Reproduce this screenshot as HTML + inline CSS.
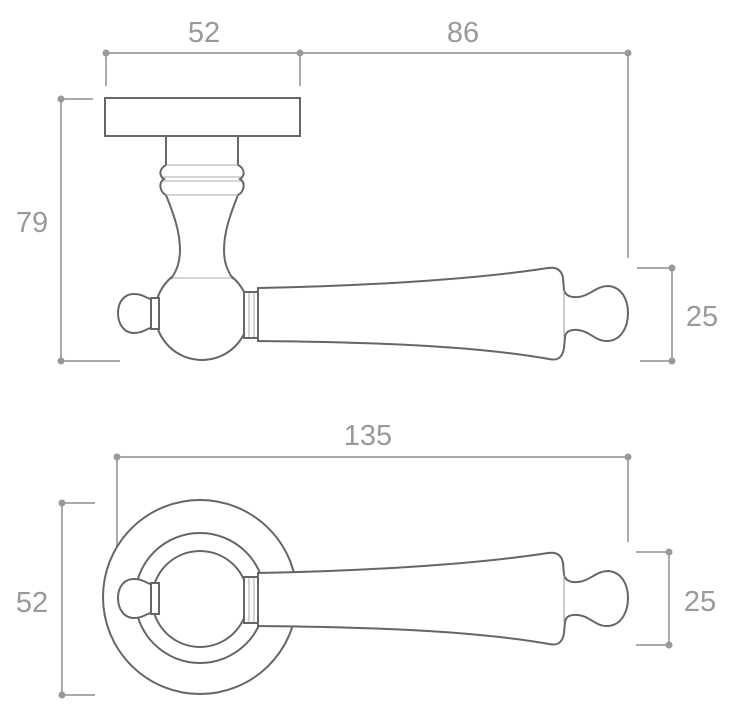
<!DOCTYPE html>
<html><head><meta charset="utf-8"><style>
html,body{margin:0;padding:0;background:#fff;}
svg{display:block;}
text{font-family:"Liberation Sans",sans-serif;font-size:29px;fill:#999;}
</style></head><body>
<svg width="731" height="711" viewBox="0 0 731 711" xmlns="http://www.w3.org/2000/svg">
<defs>
<g id="lever">
  <path d="M258,288 C360,286 470,280 548,268 Q561,266 563,278 L564,290 Q566,298 578,297 C590,296 596,286 608,286 C622,287 628,300 628,313 C628,326 622,340 608,341 C596,342 590,331 578,330 Q566,329 565,337 L564,348 Q562,362 549,359 C470,345 360,342 258,341 Z" fill="#fff" stroke="#666" stroke-width="2"/>
  <line x1="564" y1="290" x2="564" y2="337" stroke="#999" stroke-width="1"/>
  <rect x="244" y="292" width="14" height="46" fill="#fff" stroke="#666" stroke-width="2"/>
  <line x1="249" y1="293" x2="249" y2="337" stroke="#aaa" stroke-width="1"/>
  <line x1="254" y1="293" x2="254" y2="337" stroke="#aaa" stroke-width="1"/>
  <path d="M156,300 C147,300 145,294 134,294 C124,294 118,302 118,313 C118,324 124,333 134,333 C145,333 147,327 156,327 Z" fill="#fff" stroke="#666" stroke-width="2"/>
  <rect x="151" y="298" width="8" height="31" fill="#fff" stroke="#666" stroke-width="2"/>
</g>
</defs>
<g stroke="#aaa" stroke-width="2" fill="none">
  <line x1="106" y1="53" x2="628" y2="53"/>
  <line x1="106" y1="53" x2="106" y2="86"/>
  <line x1="300" y1="53" x2="300" y2="86"/>
  <line x1="628" y1="53" x2="628" y2="258"/>
  <line x1="61" y1="99" x2="61" y2="361"/>
  <line x1="61" y1="99" x2="93" y2="99"/>
  <line x1="61" y1="361" x2="120" y2="361"/>
  <line x1="672" y1="268" x2="672" y2="361"/>
  <line x1="637" y1="268" x2="672" y2="268"/>
  <line x1="640" y1="361" x2="672" y2="361"/>
  <line x1="117" y1="457" x2="628" y2="457"/>
  <line x1="117" y1="457" x2="117" y2="560"/>
  <line x1="628" y1="457" x2="628" y2="542"/>
  <line x1="62" y1="503" x2="62" y2="695"/>
  <line x1="62" y1="503" x2="95" y2="503"/>
  <line x1="62" y1="695" x2="95" y2="695"/>
  <line x1="669" y1="552" x2="669" y2="645"/>
  <line x1="636" y1="552" x2="669" y2="552"/>
  <line x1="636" y1="645" x2="669" y2="645"/>
</g>
<g fill="#999">
  <circle cx="106" cy="53" r="3.5"/><circle cx="300" cy="53" r="3.5"/><circle cx="628" cy="53" r="3.5"/>
  <circle cx="61" cy="99" r="3.5"/><circle cx="61" cy="361" r="3.5"/>
  <circle cx="672" cy="268" r="3.5"/><circle cx="672" cy="361" r="3.5"/>
  <circle cx="117" cy="457" r="3.5"/><circle cx="628" cy="457" r="3.5"/>
  <circle cx="62" cy="503" r="3.5"/><circle cx="62" cy="695" r="3.5"/>
  <circle cx="669" cy="552" r="3.5"/><circle cx="669" cy="645" r="3.5"/>
</g>
<text x="204" y="42" text-anchor="middle">52</text>
<text x="463" y="42" text-anchor="middle">86</text>
<text x="32" y="232" text-anchor="middle">79</text>
<text x="702" y="326" text-anchor="middle">25</text>
<text x="368" y="445" text-anchor="middle">135</text>
<text x="32" y="612" text-anchor="middle">52</text>
<text x="700" y="611" text-anchor="middle">25</text>

<!-- top view -->
<rect x="105" y="98" width="195" height="38" fill="#fff" stroke="#666" stroke-width="2"/>
<circle cx="202" cy="313" r="47" fill="#fff" stroke="#666" stroke-width="2"/>
<path d="M166,137 L238,137 L238,165 C244,168 246,175 240,179 C246,183 244,192 238,195 C230,215 224,232 224,250 C224,262 227,270 233,279 L171,279 C177,270 180,262 180,250 C180,232 174,215 166,195 C160,192 158,183 164,179 C158,175 160,168 166,165 Z" fill="#fff"/>
<path d="M166,137 L166,165 C160,168 158,175 164,179 C158,183 160,192 166,195 C174,215 180,232 180,250 C180,262 177,270 171,279" fill="none" stroke="#666" stroke-width="2"/>
<path d="M238,137 L238,165 C244,168 246,175 240,179 C246,183 244,192 238,195 C230,215 224,232 224,250 C224,262 227,270 233,279" fill="none" stroke="#666" stroke-width="2"/>
<g stroke="#aaa" stroke-width="1">
  <line x1="166" y1="165" x2="238" y2="165"/>
  <line x1="163" y1="177" x2="241" y2="177"/>
  <line x1="163" y1="181" x2="241" y2="181"/>
  <line x1="166" y1="195" x2="238" y2="195"/>
  <line x1="172" y1="278" x2="232" y2="278"/>
</g>
<use href="#lever"/>

<!-- bottom view -->
<circle cx="200" cy="597" r="97" fill="#fff" stroke="#666" stroke-width="2"/>
<circle cx="200" cy="598" r="65" fill="#fff" stroke="#666" stroke-width="2"/>
<circle cx="200" cy="599" r="48" fill="#fff" stroke="#666" stroke-width="2"/>
<use href="#lever" transform="translate(0,285)"/>
</svg>
</body></html>
